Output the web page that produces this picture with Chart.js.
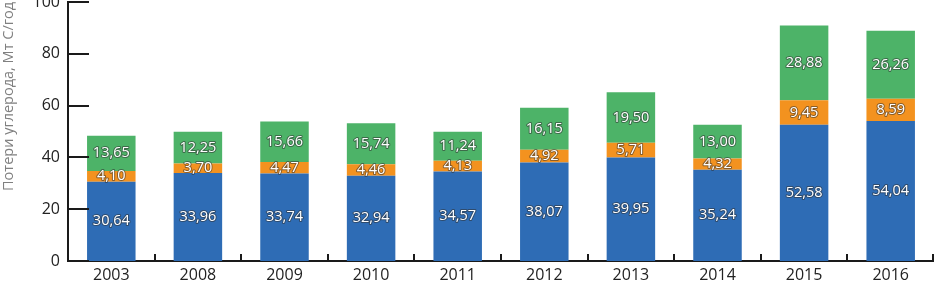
<!DOCTYPE html>
<html>
<head>
<meta charset="utf-8">
<script src="https://cdn.jsdelivr.net/npm/chart.js@4"></script>
<style>
  html, body { margin: 0; padding: 0; background: #fff; }
  #wrap { width: 934px; height: 284px; }
</style>
</head>
<body>
<div id="wrap"><canvas id="myChart"></canvas></div>
<script>
// годы
const years = ['2003', '2008', '2009', '2010', '2011', '2012', '2013', '2014', '2015', '2016'];
// три составляющие потерь углерода, Мт С/год
const partBlue = [30.64, 33.96, 33.74, 32.94, 34.57, 38.07, 39.95, 35.24, 52.58, 54.04];
const partOrange = [4.10, 3.70, 4.47, 4.46, 4.13, 4.92, 5.71, 4.32, 9.45, 8.59];
const partGreen = [13.65, 12.25, 15.66, 15.74, 11.24, 16.15, 19.50, 13.00, 28.88, 26.26];
const yTicks = [0, 20, 40, 60, 80, 100];

const FONT = '"Open Sans", "Noto Sans", sans-serif';

// подписи значений и внутренние засечки осей
const customDraw = {
    id: 'customDraw',
    afterDatasetsDraw(chart) {
        const ctx = chart.ctx;
        ctx.save();
        ctx.font = '14.5px ' + FONT;
        ctx.textAlign = 'center';
        ctx.textBaseline = 'middle';
        ctx.lineJoin = 'round';
        chart.data.datasets.forEach((ds, i) => {
            chart.getDatasetMeta(i).data.forEach((bar, j) => {
                const txt = ds.data[j].toFixed(2).replace('.', ',');
                const y = (bar.y + bar.base) / 2;
                ctx.strokeStyle = 'rgba(50,50,50,0.55)';
                ctx.lineWidth = 2;
                ctx.strokeText(txt, bar.x, y);
                ctx.fillStyle = '#ffffff';
                ctx.fillText(txt, bar.x, y);
            });
        });
        ctx.restore();
    },
    afterDraw(chart) {
        const ctx = chart.ctx;
        const area = chart.chartArea;
        const xs = chart.scales.x;
        const ys = chart.scales.y;
        ctx.save();
        ctx.strokeStyle = '#1a1a1a';
        ctx.lineWidth = 2;
        ctx.beginPath();
        yTicks.forEach(v => {
            const y = Math.round(ys.getPixelForValue(v));
            ctx.moveTo(area.left, y);
            ctx.lineTo(area.left + 21, y);
        });
        for (let i = 0; i < years.length; i++) {
            const x = i < years.length - 1
                ? (xs.getPixelForValue(i) + xs.getPixelForValue(i + 1)) / 2
                : area.right - 1;
            ctx.moveTo(Math.round(x), area.bottom);
            ctx.lineTo(Math.round(x), area.bottom - 7);
        }
        ctx.stroke();
        ctx.restore();
    }
};

const ctx = document.getElementById('myChart').getContext('2d');
const myChart = new Chart(ctx, {
    type: 'bar',
    data: {
        labels: years,
        datasets: [
            { label: 'blue', data: partBlue, backgroundColor: '#2e6cb5' },
            { label: 'orange', data: partOrange, backgroundColor: '#f3921f' },
            { label: 'green', data: partGreen, backgroundColor: '#4db368' }
        ]
    },
    options: {
        responsive: true,
        maintainAspectRatio: false,
        animation: false,
        devicePixelRatio: 1,
        barPercentage: 0.56,
        categoryPercentage: 1,
        layout: { padding: { top: 2, right: 0, bottom: 0, left: 0 } },
        plugins: {
            legend: { display: false },
            tooltip: { enabled: false }
        },
        scales: {
            x: {
                stacked: true,
                afterFit(scale) { scale.height = 23; },
                grid: { display: false, drawTicks: false },
                border: { display: true, color: '#1a1a1a', width: 2 },
                ticks: {
                    color: '#222',
                    font: { family: FONT, size: 16 },
                    padding: 5,
                    maxRotation: 0
                }
            },
            y: {
                stacked: true,
                min: 0,
                max: 100,
                afterFit(scale) {
                    scale.width = 68;
                    scale.paddingTop = 0;
                    scale.paddingBottom = 0;
                },
                afterBuildTicks(scale) { scale.ticks = yTicks.map(v => ({ value: v })); },
                grid: { display: false, drawTicks: false },
                border: { display: true, color: '#1a1a1a', width: 2 },
                ticks: {
                    color: '#222',
                    font: { family: FONT, size: 16 },
                    padding: 8
                },
                title: {
                    display: true,
                    text: 'Потери углерода, Мт С/год',
                    align: 'end',
                    color: '#808080',
                    font: { family: FONT, size: 14.5 },
                    padding: { top: 0, bottom: 0 }
                }
            }
        }
    },
    plugins: [customDraw]
});
</script>
</body>
</html>
